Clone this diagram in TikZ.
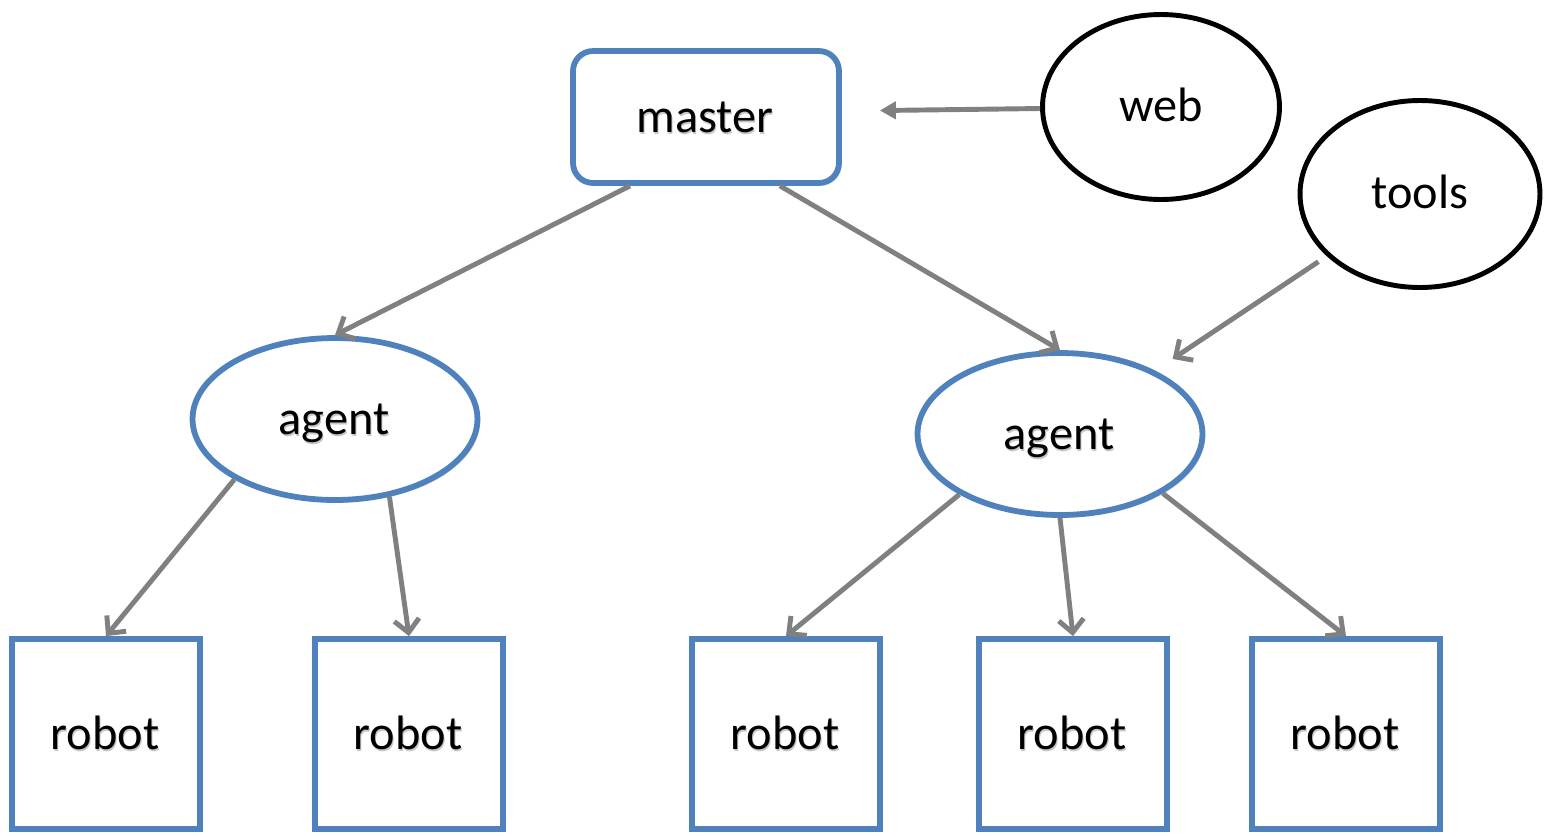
\documentclass[tikz,border=0pt]{standalone}
\usepackage{fontspec}
\setmainfont{Carlito}
\usetikzlibrary{arrows.meta,shadows,shapes.geometric}
\definecolor{nodeblue}{HTML}{4F81BD}
\definecolor{linkgray}{HTML}{808080}
\newcommand{\bigfont}{\fontsize{27.5}{33}\selectfont}
\tikzset{
  shtext/.style={text=black!22,font=\bigfont,text height=0.7cm,text depth=0cm,
    label={[text=black,font=\bigfont,text height=0.7cm,text depth=0cm,
      xshift=-0.6pt,yshift=1.3pt]center:#1}},
  bluenode/.style={draw=nodeblue,line width=3.3pt,fill=white,inner sep=0pt,
    drop shadow={shadow xshift=1.5pt,shadow yshift=-1.5pt,opacity=0.25}},
  masterbox/.style={bluenode,rectangle,rounded corners=0.4cm,minimum width=5.32cm,minimum height=2.64cm},
  agentnode/.style={bluenode,ellipse,minimum width=5.7cm,minimum height=3.24cm},
  robotbox/.style={bluenode,rectangle,minimum width=3.76cm,minimum height=3.8cm},
  extnode/.style={ellipse,draw=black,line width=2.8pt,inner sep=0pt,font=\bigfont,
    text height=0.56cm,text depth=0cm},
  link/.style={draw=linkgray,line width=2.8pt,-{Straight Barb[length=0.26cm,width=0.5cm]}}
}
\begin{document}
\begin{tikzpicture}[x=0.02cm,y=-0.02cm]
    \useasboundingbox (0,0) rectangle (1546,836);
    % top row
    \node[masterbox,shtext=master] (master) at (706,117) {master};
    \node[extnode,minimum width=4.74cm,minimum height=3.7cm] (web) at (1161,107) {web};
    \node[extnode,minimum width=4.8cm,minimum height=3.74cm] (tools) at (1420,194) {tools};
    % agents
    \node[agentnode,shtext=agent] (agL) at (335,419) {agent};
    \node[agentnode,shtext=agent] (agR) at (1060,434) {agent};
    % robots
    \foreach \i/\x in {1/106,2/409,3/786,4/1073,5/1346} {
        \node[robotbox,shtext=robot] (r\i) at (\x,734) {robot};
    }
    % links
    \draw[draw=linkgray,line width=2.8pt,-{Triangle[length=0.32cm,width=0.34cm]},shorten >=0.76cm]
        (web) -- ([yshift=0.12cm]master.east);
    \draw[link] ([xshift=-1.52cm]master.south) -- (agL.north);
    \draw[link] ([xshift=1.48cm]master.south) -- (agR.north);
    \draw[link,shorten >=0.42cm,shorten <=0.2cm] (tools) -- (agR);
    \draw[link] (agL.211) -- (r1.north);
    \draw[link] (agL.305) -- (r2.north);
    \draw[link] (agR.211) -- (r3.north);
    \draw[link] (agR.south) -- (r4.north);
    \draw[link] (agR.330) -- (r5.north);
\end{tikzpicture}
\end{document}
